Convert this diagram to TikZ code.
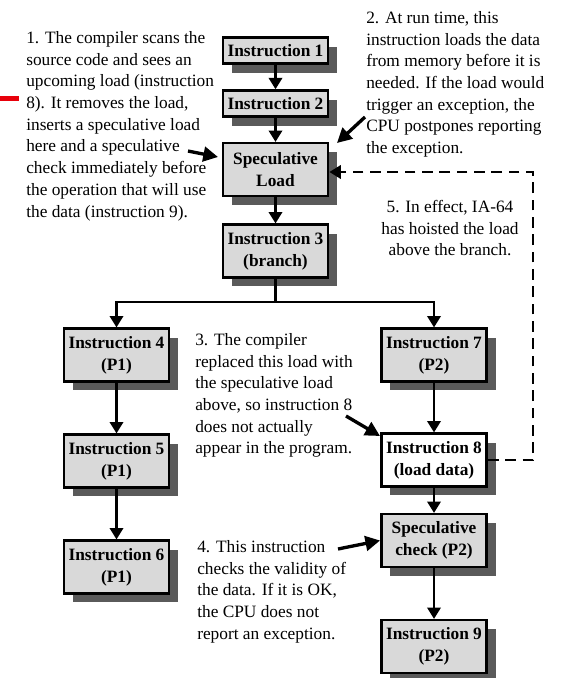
\documentclass[tikz,border=0pt]{standalone}
\usepackage{fontspec}
\setmainfont{Liberation Serif}
\usetikzlibrary{arrows.meta,shadows}
\definecolor{boxgray}{HTML}{D9D9D9}
\definecolor{shadowgray}{HTML}{5A5A5A}
\definecolor{markred}{HTML}{E8000B}
\begin{document}
\begin{tikzpicture}[x=0.75pt,y=-0.75pt,
  box/.style={draw=black, line width=1.9pt, fill=boxgray, inner sep=0pt,
    minimum width=79pt, align=center,
    font=\fontsize{13}{16.5}\selectfont\bfseries,
    general shadow={shadow xshift=6.75pt, shadow yshift=-6.75pt,
      fill=shadowgray, draw=none, opacity=1}},
  tall/.style={box, minimum height=39.5pt},
  flat/.style={box, minimum height=19.5pt},
  note/.style={inner sep=0pt, align=left, anchor=north west,
    font=\fontsize{13}{16.3}\selectfont},
  arr/.style={line width=1.8pt, -{Triangle[length=8.5pt,width=10pt]}},
  narr/.style={line width=2.5pt, -{Triangle[length=11pt,width=11pt]}},
  hoist/.style={line width=1.8pt, dash pattern=on 8pt off 5pt,
    -{Triangle[length=8.5pt,width=10pt]}}]

  % canvas
  \fill[white] (0,0) rectangle (566,678);
  \useasboundingbox (0,0) rectangle (566,678);
  \fill[markred] (0,96) rectangle (19,101);

  % main column
  \node[flat] (i1) at (275.5,50.5) {Instruction 1};
  \node[flat] (i2) at (275.5,103.5) {Instruction 2};
  \node[tall] (sl) at (275.5,169.5) {Speculative\\Load};
  \node[tall] (i3) at (275.5,251) {Instruction 3\\(branch)};

  % P1 path
  \node[tall] (i4) at (116.5,355) {Instruction 4\\(P1)};
  \node[tall] (i5) at (116.5,461) {Instruction 5\\(P1)};
  \node[tall] (i6) at (116.5,567) {Instruction 6\\(P1)};

  % P2 path
  \node[tall] (i7) at (434,355) {Instruction 7\\(P2)};
  \node[tall, fill=white] (i8) at (434,460) {Instruction 8\\(load data)};
  \node[tall] (sc) at (434,540.5) {Speculative\\check (P2)};
  \node[tall] (i9) at (434,646.5) {Instruction 9\\(P2)};

  % flow
  \draw[arr] (i1) -- (i2);
  \draw[arr] (i2) -- (sl);
  \draw[arr] (sl) -- (i3);
  \coordinate (br) at (275.5,302);
  \draw[arr] (i3.south) -- (i3.south |- br) -| (i4.north);
  \draw[arr] (i3.south) -- (i3.south |- br) -| (i7.north);
  \draw[arr] (i4) -- (i5);
  \draw[arr] (i5) -- (i6);
  \draw[arr] (i7) -- (i8);
  \draw[arr] (i8) -- (sc);
  \draw[arr] (sc) -- (i9);

  % load hoisted above the branch
  \coordinate (hb) at (533,460);
  \coordinate (ht) at (533,172);
  \draw[hoist] (i8.east) -- (hb) -- (ht) -- (sl.east |- ht);

  % annotations
  \node[note] (t1) at (26,31) {1. The compiler scans the\\source code and sees an\\upcoming load (instruction\\8). It removes the load,\\inserts a speculative load\\here and a speculative\\check immediately before\\the operation that will use\\the data (instruction 9).};
  \node[note] (t2) at (366,11) {2. At run time, this\\instruction loads the data\\from memory  before it is\\needed. If the load would\\trigger an exception, the\\CPU postpones reporting\\the exception.};
  \node[note, anchor=north, align=center] (t5) at (450,200) {5. In effect, IA-64\\has hoisted the load\\above the branch.};
  \node[note] (t3) at (195,333) {3. The compiler\\replaced this load with\\the speculative load\\above, so instruction 8\\does not actually\\appear in the program.};
  \node[note] (t4) at (197,540) {4. This instruction\\checks the validity of\\the data. If it is OK,\\the CPU does not\\report an exception.};

  % annotation pointers
  \coordinate (p1s) at (188,151);  \coordinate (p1e) at (218,157);
  \coordinate (p2s) at (365,117);  \coordinate (p2e) at (337,143);
  \coordinate (p3s) at (346,416);  \coordinate (p3e) at (380,436);
  \coordinate (p4s) at (338,549);
  \draw[narr] (p1s) -- (p1e);
  \draw[narr] (p2s) -- (p2e);
  \draw[narr] (p3s) -- (p3e);
  \draw[narr] (p4s) -- (sc.west);
\end{tikzpicture}
\end{document}
